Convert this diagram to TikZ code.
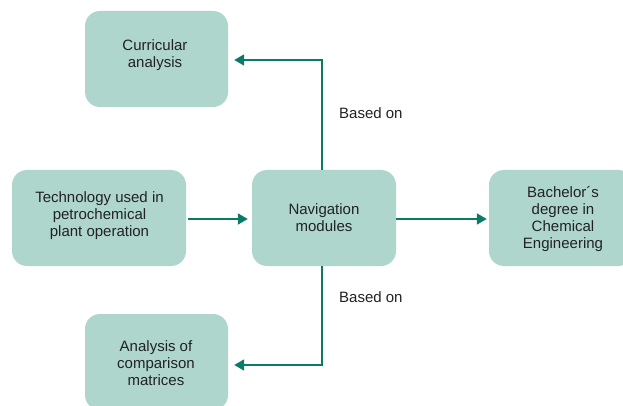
\documentclass[tikz,border=0pt]{standalone}
\usepackage{fontspec}
\setmainfont{Liberation Sans}
\usetikzlibrary{arrows.meta}
\definecolor{boxfill}{HTML}{AED6CD}
\definecolor{arrowc}{HTML}{0B7A69}
\definecolor{txt}{HTML}{222222}
\tikzset{
  x=1pt, y=-1pt,
  box/.style={fill=boxfill, rounded corners=15pt, inner sep=0pt, draw=none},
  lbl/.style={align=center, text=txt, font=\fontsize{15}{17}\selectfont, inner sep=0pt},
  conn/.style={draw=arrowc, line width=1.8pt, -{Triangle[length=10pt,width=11pt]}},
}
\begin{document}
\begin{tikzpicture}
\useasboundingbox (0,0) rectangle (623,406);
\clip (0,0) rectangle (623,406);
\fill[white] (0,0) rectangle (623,406);
% boxes
\node[box, minimum width=143pt, minimum height=96pt] (cur) at (156.5,59) {};
\node[box, minimum width=174pt, minimum height=96pt] (tech) at (99,218) {};
\node[box, minimum width=144pt, minimum height=96pt] (nav) at (324,218) {};
\node[box, minimum width=144pt, minimum height=96pt] (bach) at (561,218) {};
\node[box, minimum width=143pt, minimum height=96pt] (ana) at (156.5,362) {};
% texts
\node[lbl] (curT) at (155,55) {Curricular\\analysis};
\node[lbl] (techT) at (99.5,216) {Technology used in\\petrochemical\\plant operation};
\node[lbl] (navT) at (324,217.5) {Navigation\\modules};
\node[lbl] (bachT) at (563,219) {Bachelor´s\\degree in\\Chemical\\Engineering};
\node[lbl] (anaT) at (156,363.5) {Analysis of\\comparison\\matrices};
\node[lbl, anchor=west] (b1) at (339,113) {Based on};
\node[lbl, anchor=west] (b2) at (339,297) {Based on};
% connectors
\coordinate (c1) at (322,60);
\coordinate (c2) at (322,365);
\draw[conn, shorten <=2pt, shorten >=4pt] (tech.east |- 0,219) -- (nav.west |- 0,219);
\draw[conn, shorten >=2pt] (nav.east |- 0,219) -- (bach.west |- 0,219);
\draw[conn, shorten >=6pt] (nav.north -| c1) -- (c1) -- (cur.east |- c1);
\draw[conn, shorten >=6pt] (nav.south -| c2) -- (c2) -- (ana.east |- c2);
\end{tikzpicture}
\end{document}
